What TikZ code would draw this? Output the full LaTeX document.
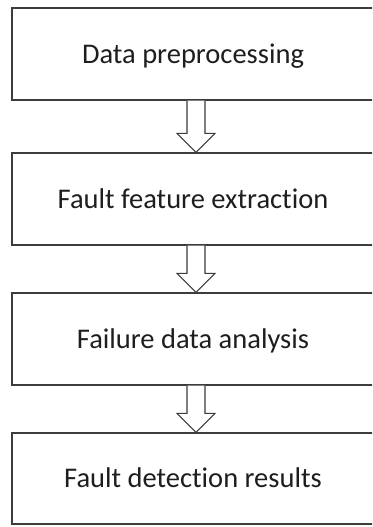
\documentclass[tikz,border=0pt]{standalone}
\usepackage{fontspec}
\setmainfont[Ligatures=NoCommon]{Carlito}
\usetikzlibrary{calc}
\definecolor{edge}{HTML}{3C3C3C}
\definecolor{ink}{HTML}{1E1E1E}
\tikzset{
  stagebox/.style={draw=edge, line width=1.3pt, fill=white, rectangle,
    minimum width=362pt, inner sep=0pt, text=ink,
    text height=18.5pt, text depth=-4pt,
    font=\fontsize{28.5}{34}\selectfont},
  flowarrow/.style={draw=edge, line width=1.1pt, fill=white, line join=miter}
}
% hollow block arrow from the bottom of one stage to the top of the next
\newcommand\stagearrow[2]{%
  \path[flowarrow] let \p1=(#1.south), \p2=(#2.north) in
    (\x1-6pt,\y1) -- (\x1-6pt,\y2+19pt) -- (\x1-16pt,\y2+19pt) --
    (\x1+3pt,\y2) -- (\x1+22pt,\y2+19pt) -- (\x1+12pt,\y2+19pt) --
    (\x1+12pt,\y1);}
\begin{document}
\begin{tikzpicture}[x=1pt,y=-1pt]
  \clip (0,0) rectangle (372,527);
  \fill[white] (0,0) rectangle (372,527);
  \node[stagebox, minimum height=92pt] (prep) at (193,54) {Data preprocessing};
  \node[stagebox, minimum height=92pt] (feat) at (193,199) {Fault feature extraction};
  \node[stagebox, minimum height=92pt] (anal) at (193,339) {Failure data analysis};
  \node[stagebox, minimum height=91pt] (res) at (193,478.5) {Fault detection results};
  \stagearrow{prep}{feat}
  \stagearrow{feat}{anal}
  \stagearrow{anal}{res}
\end{tikzpicture}
\end{document}
